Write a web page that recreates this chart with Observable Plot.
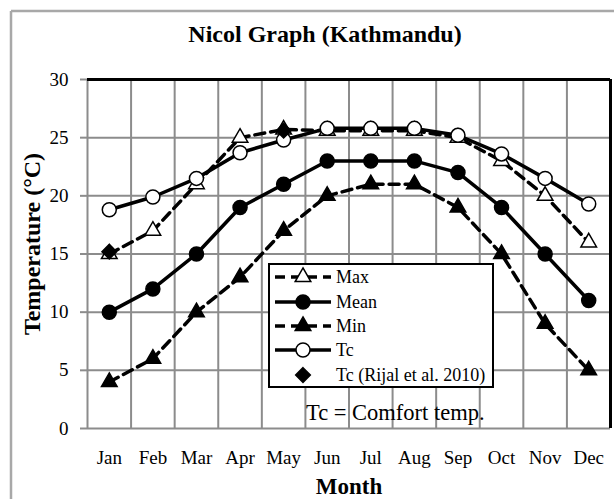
<!DOCTYPE html>
<html>
<head>
<meta charset="utf-8">
<script src="https://cdn.jsdelivr.net/npm/d3@7"></script>
<script src="https://cdn.jsdelivr.net/npm/@observablehq/plot@0.6"></script>
<style>
  html, body { margin: 0; padding: 0; background: white; }
  #chart { position: relative; width: 614px; height: 499px; }
</style>
</head>
<body>
<div id="chart"></div>
<script>
// ---- data ----
const months = ["Jan","Feb","Mar","Apr","May","Jun","Jul","Aug","Sep","Oct","Nov","Dec"];
const maxT  = [15, 17, 21, 25, 25.7, 25.6, 25.6, 25.6, 25, 23, 20, 16];
const meanT = [10, 12, 15, 19, 21, 23, 23, 23, 22, 19, 15, 11];
const minT  = [4, 6, 10, 13, 17, 20, 21, 21, 19, 15, 9, 5];
const tcT   = [18.8, 19.9, 21.5, 23.7, 24.8, 25.8, 25.8, 25.8, 25.2, 23.6, 21.5, 19.3];
const rijalMonths = ["Jan", "May"];
const rijalT = [15.2, 25.6];
const yTicks = [0, 5, 10, 15, 20, 25, 30];
const titleText = "Nicol Graph (Kathmandu)";
const xLabel = "Month";
const yLabel = "Temperature (°C)";
const noteText = "Tc = Comfort temp.";
const legendLabels = ["Max", "Mean", "Min", "Tc", "Tc (Rijal et al. 2010)"];

// ---- tables ----
const idx = m => months.indexOf(m) + 1;
const series = (vals) => vals.map((v, i) => ({x: i + 1, y: v}));
const maxD = series(maxT), meanD = series(meanT), minD = series(minT), tcD = series(tcT);
const rijalD = rijalMonths.map((m, i) => ({x: idx(m), y: rijalT[i]}));
const xBounds = d3.range(months.length + 1).map(i => i + 0.5);

const FONT = "'Liberation Serif', 'Times New Roman', serif";
const GRID = "#8c8c8c";
const LW = 3.5;
const DASH = "10,6";

const plot = Plot.plot({
  width: 614,
  height: 499,
  marginLeft: 87,
  marginRight: 4,
  marginTop: 79,
  marginBottom: 71,
  style: {fontFamily: FONT, fontSize: "19px", background: "white", color: "black"},
  x: {type: "linear", domain: [0.5, months.length + 0.5]},
  y: {domain: [0, 30]},
  marks: [
    Plot.ruleX(xBounds, {stroke: GRID, strokeWidth: 2}),
    Plot.ruleY(yTicks, {stroke: GRID, strokeWidth: 2}),
    Plot.ruleY([30], {stroke: "black", strokeWidth: 3}),
    Plot.ruleX([months.length + 0.5], {stroke: "black", strokeWidth: 3}),
    Plot.axisY({ticks: yTicks, tickSize: 7, tickPadding: 12, stroke: GRID, strokeWidth: 2, label: null, fontSize: 19}),
    Plot.axisX({ticks: d3.range(1, months.length + 1), tickSize: 0, tickPadding: 22,
      tickFormat: d => months[d - 1], label: null, fontSize: 19}),
    // Max
    Plot.line(maxD, {x: "x", y: "y", stroke: "black", strokeWidth: LW, strokeDasharray: DASH}),
    Plot.dot(maxD, {x: "x", y: "y", symbol: "triangle", r: 5.8, fill: "white", stroke: "black", strokeWidth: 1.5}),
    // Mean
    Plot.line(meanD, {x: "x", y: "y", stroke: "black", strokeWidth: LW}),
    Plot.dot(meanD, {x: "x", y: "y", symbol: "circle", r: 7, fill: "black", stroke: "black"}),
    // Min
    Plot.line(minD, {x: "x", y: "y", stroke: "black", strokeWidth: LW, strokeDasharray: DASH}),
    Plot.dot(minD, {x: "x", y: "y", symbol: "triangle", r: 5.8, fill: "black", stroke: "black"}),
    // Tc
    Plot.line(tcD, {x: "x", y: "y", stroke: "black", strokeWidth: LW}),
    Plot.dot(tcD, {x: "x", y: "y", symbol: "circle", r: 7, fill: "white", stroke: "black", strokeWidth: 1.5}),
    // Tc (Rijal)
    Plot.dot(rijalD, {x: "x", y: "y", symbol: "diamond2", r: 6.6, fill: "black", stroke: "black"})
  ]
});

document.getElementById("chart").appendChild(plot);

// ---- extra text and legend ----
const svg = d3.select(plot);

// outer frame (gray, left & top)
svg.append("line").attr("x1", 11).attr("x2", 11).attr("y1", 11).attr("y2", 499)
  .attr("stroke", "#a8a8a8").attr("stroke-width", 2.5);
svg.append("line").attr("x1", 11).attr("x2", 614).attr("y1", 11).attr("y2", 11)
  .attr("stroke", "#a8a8a8").attr("stroke-width", 2.5);

svg.append("text").attr("x", 325).attr("y", 42).attr("text-anchor", "middle")
  .attr("font-family", FONT).attr("font-weight", "bold").attr("font-size", 24)
  .text(titleText);

svg.append("text").attr("x", 349).attr("y", 494).attr("text-anchor", "middle")
  .attr("font-family", FONT).attr("font-weight", "bold").attr("font-size", 23)
  .text(xLabel);

svg.append("text").attr("transform", "translate(40,244) rotate(-90)").attr("text-anchor", "middle")
  .attr("font-family", FONT).attr("font-weight", "bold").attr("font-size", 24)
  .text(yLabel);

svg.append("text").attr("x", 306).attr("y", 420).attr("text-anchor", "start")
  .attr("font-family", FONT).attr("font-size", 22.5)
  .text(noteText);

// legend
const lg = svg.append("g");
lg.append("rect").attr("x", 269).attr("y", 264).attr("width", 224).attr("height", 123)
  .attr("fill", "white").attr("stroke", "black").attr("stroke-width", 2);
const rows = [
  {dash: DASH, line: true, sym: d3.symbolTriangle, size: Math.PI * 5.8 * 5.8, fill: "white"},
  {dash: null, line: true, sym: d3.symbolCircle, size: Math.PI * 49, fill: "black"},
  {dash: DASH, line: true, sym: d3.symbolTriangle, size: Math.PI * 5.8 * 5.8, fill: "black"},
  {dash: null, line: true, sym: d3.symbolCircle, size: Math.PI * 49, fill: "white"},
  {dash: null, line: false, sym: d3.symbolDiamond2, size: Math.PI * 6.6 * 6.6, fill: "black"}
];
const rowY = [277, 302, 326, 350, 375];
rows.forEach((r, i) => {
  const cy = rowY[i];
  if (r.line) {
    lg.append("line").attr("x1", 275).attr("x2", 331).attr("y1", cy).attr("y2", cy)
      .attr("stroke", "black").attr("stroke-width", LW)
      .attr("stroke-dasharray", r.dash);
  }
  lg.append("path").attr("d", d3.symbol(r.sym, r.size)())
    .attr("transform", `translate(303,${cy})`)
    .attr("fill", r.fill).attr("stroke", "black").attr("stroke-width", 1.5);
  lg.append("text").attr("x", 336).attr("y", cy + 6).attr("text-anchor", "start")
    .attr("font-family", FONT).attr("font-size", 18)
    .text(legendLabels[i]);
});
</script>
</body>
</html>
